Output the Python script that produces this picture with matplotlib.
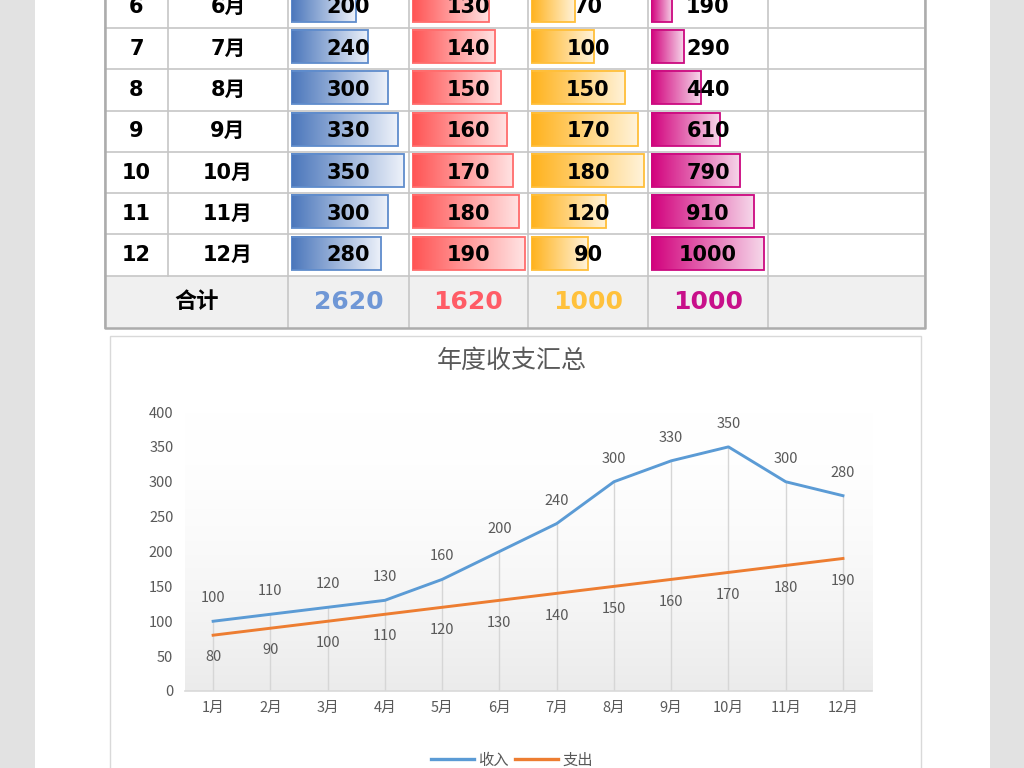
import numpy as np
import matplotlib
matplotlib.use('Agg')
import matplotlib.pyplot as plt
from matplotlib.patches import Rectangle
from matplotlib.lines import Line2D
from matplotlib.colors import to_rgb

plt.rcParams['font.family'] = ['DejaVu Sans', 'Noto Sans CJK SC']

# ---------------- data ----------------
table_rows = [6, 7, 8, 9, 10, 11, 12]
table_months = ['6月', '7月', '8月', '9月', '10月', '11月', '12月']
table_income = [200, 240, 300, 330, 350, 300, 280]
table_expense = [130, 140, 150, 160, 170, 180, 190]
table_balance = [70, 100, 150, 170, 180, 120, 90]
table_cumulative = [190, 290, 440, 610, 790, 910, 1000]
total_label = '合计'
total_values = ['2620', '1620', '1000', '1000']

months = ['1月', '2月', '3月', '4月', '5月', '6月', '7月', '8月', '9月', '10月', '11月', '12月']
income = [100, 110, 120, 130, 160, 200, 240, 300, 330, 350, 300, 280]
expense = [80, 90, 100, 110, 120, 130, 140, 150, 160, 170, 180, 190]
series_names = ['收入', '支出']
chart_title = '年度收支汇总'
y_ticks = [0, 50, 100, 150, 200, 250, 300, 350, 400]

# ---------------- styles ----------------
W, H = 1024, 768
bar_styles = [  # (solid, light, border)
    ('#4a76bb', '#eef2fa', '#5f8ccc'),
    ('#ff5353', '#ffe4e4', '#ff6d6d'),
    ('#ffb21c', '#fff3da', '#ffbf3a'),
    ('#d2007c', '#f6d8ea', '#cc0a80'),
]
total_colors = ['#6f97d6', '#ff5c66', '#ffc13c', '#c8108a']
grid_c = '#c6c6c6'
text_gray = '#595959'
cjk = ['Noto Sans CJK SC']

fig = plt.figure(figsize=(W / 100, H / 100), dpi=100, facecolor='#e2e2e2')

bg = fig.add_axes([0, 0, 1, 1])
bg.set_xlim(0, W)
bg.set_ylim(H, 0)
bg.axis('off')
bg.add_patch(Rectangle((35, 0), 955, H, fc='white', ec='none'))

# ---------------- table ----------------
col_edges = [105, 168, 288, 409, 528, 648, 768, 925]
row_h = 41.3
row_top0 = -13.3
row_edges = [row_top0 + row_h * k for k in range(len(table_rows) + 1)]
total_bottom = 328

bg.add_patch(Rectangle((col_edges[0], row_edges[-1]), col_edges[-1] - col_edges[0],
                       total_bottom - row_edges[-1], fc='#f0f0f0', ec='none'))
for y in row_edges:
    bg.plot([col_edges[0], col_edges[-1]], [y, y], color=grid_c, lw=1.2)
for i, x in enumerate(col_edges):
    bg.plot([x, x], [row_top0, row_edges[-1]], color=grid_c, lw=1.2)
    if i != 1:
        bg.plot([x, x], [row_edges[-1], total_bottom], color=grid_c, lw=1.2)
bg.plot([col_edges[0], col_edges[0], col_edges[-1], col_edges[-1]],
        [row_top0, total_bottom, total_bottom, row_top0], color='#acacac', lw=1.8)

# data bars in inset axes per column
bar_cols = [table_income, table_expense, table_balance, table_cumulative]
for ci, vals in enumerate(bar_cols):
    L, R = col_edges[2 + ci], col_edges[3 + ci]
    x0 = L + 3
    wpx = R - x0
    axb = fig.add_axes([x0 / W, 1 - row_edges[-1] / H, wpx / W, (row_edges[-1] - row_top0) / H])
    solid, light, border = bar_styles[ci]
    grad = np.linspace(0, 1, 256)[None, :, None]
    img = (1 - grad) * np.array(to_rgb(solid)) + grad * np.array(to_rgb(light))
    for r, v in zip(table_rows, vals):
        axb.imshow(img, extent=[0, v, r + 0.35, r - 0.45], aspect='auto', interpolation='bilinear')
        axb.add_patch(Rectangle((0, r - 0.45), v, 0.8, fill=False, ec=border, lw=1.3))
    axb.set_xlim(0, max(vals) * wpx / 113)
    axb.set_ylim(table_rows[-1] + 0.5, table_rows[0] - 0.5)
    axb.axis('off')

fg = fig.add_axes([0, 0, 1, 1])
fg.set_xlim(0, W)
fg.set_ylim(H, 0)
fg.axis('off')
fg.patch.set_alpha(0)

num_font = dict(fontsize=15, fontweight='bold', color='black', ha='center', va='center')
for k, r in enumerate(table_rows):
    yc = (row_edges[k] + row_edges[k + 1]) / 2
    fg.text((col_edges[0] + col_edges[1]) / 2, yc, str(r), **num_font)
    fg.text((col_edges[1] + col_edges[2]) / 2, yc, table_months[k], **num_font)
    for ci, vals in enumerate(bar_cols):
        fg.text((col_edges[2 + ci] + col_edges[3 + ci]) / 2, yc, str(vals[k]), **num_font)

yt = (row_edges[-1] + total_bottom) / 2
fg.text((col_edges[0] + col_edges[2]) / 2, yt, total_label, fontsize=16, fontweight='bold',
        color='black', ha='center', va='center')
for ci, tv in enumerate(total_values):
    fg.text((col_edges[2 + ci] + col_edges[3 + ci]) / 2, yt, tv, fontsize=18, fontweight='bold',
            color=total_colors[ci], ha='center', va='center')

# ---------------- chart ----------------
bg.add_patch(Rectangle((110, 336), 811, 460, fc='white', ec='#d9d9d9', lw=1.0))
fg.text(512, 361, chart_title, family=cjk, fontsize=18, color=text_gray, ha='center', va='center')

px_left, px_right, px_top, px_bottom = 184.5, 871.6, 412, 691
ax = fig.add_axes([px_left / W, 1 - px_bottom / H, (px_right - px_left) / W, (px_bottom - px_top) / H])
ax.set_facecolor('none')
x = np.arange(len(months))
gv = np.linspace(0, 1, 256)[:, None, None] ** 1.8
gimg = (1 - gv) * np.array(to_rgb('#ffffff')) + gv * np.array(to_rgb('#ebebeb'))
ax.imshow(gimg, extent=[-0.5, len(months) - 0.5, 0, 400], aspect='auto', zorder=0)

ax.vlines(x, 0, np.maximum(income, expense), color='#d6d6d6', lw=1.0, zorder=1)
ax.plot(x, income, color='#5b9bd5', lw=2.1, zorder=3, solid_joinstyle='round')
ax.plot(x, expense, color='#ed7d31', lw=2.1, zorder=3, solid_joinstyle='round')
for xi, v in zip(x, income):
    ax.annotate(str(v), (xi, v), xytext=(0, 16.5), textcoords='offset points', ha='center',
                va='center', fontsize=10.5, color=text_gray, family=cjk)
for xi, v in zip(x, expense):
    ax.annotate(str(v), (xi, v), xytext=(0, -16), textcoords='offset points', ha='center',
                va='center', fontsize=10.5, color=text_gray, family=cjk)

ax.set_xlim(-0.5, len(months) - 0.5)
ax.set_ylim(0, 400)
ax.set_xticks(x)
ax.set_xticklabels(months, family=cjk)
ax.set_yticks(y_ticks)
ax.set_yticklabels([str(t) for t in y_ticks], family=cjk)
ax.tick_params(length=0, labelsize=10.5, colors=text_gray)
ax.tick_params(axis='x', pad=7)
ax.tick_params(axis='y', pad=8)
for s in ['top', 'left', 'right']:
    ax.spines[s].set_visible(False)
ax.spines['bottom'].set_color('#d9d9d9')
ax.spines['bottom'].set_linewidth(1.2)

handles = [Line2D([0], [0], color='#5b9bd5', lw=2.4), Line2D([0], [0], color='#ed7d31', lw=2.4)]
fig.legend(handles, series_names, loc='center', bbox_to_anchor=(512 / W, 1 - 760 / H), ncol=2,
           frameon=False, handlelength=2.8, columnspacing=0.4, handletextpad=0.3,
           prop={'family': cjk, 'size': 11}, labelcolor=text_gray)

fig.savefig('out.png', dpi=100, facecolor=fig.get_facecolor())
